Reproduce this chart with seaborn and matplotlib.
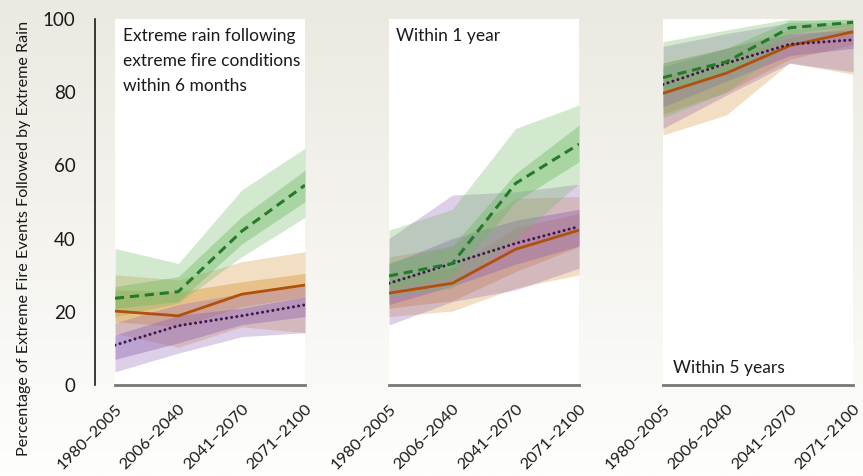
#!/usr/bin/env python3
"""Extreme rain following extreme fire conditions, three time windows."""

import matplotlib.pyplot as plt
import matplotlib.transforms as mtransforms
import numpy as np
import seaborn as sns

PERIODS = ["1980–2005", "2006–2040", "2041–2070", "2071–2100"]
PANEL_TEXT = [
    "Extreme rain following\nextreme fire conditions\nwithin 6 months",
    "Within 1 year",
    "Within 5 years",
]
YLABEL = "Percentage of Extreme Fire Events Followed by Extreme Rain"

# one row per panel (6 months, 1 year, 5 years)
GREEN_MID = [[23.7, 25.5, 42.0, 54.6], [29.8, 33.2, 55.1, 65.8], [84.0, 88.3, 97.6, 99.1]]
GREEN_IN_LO = [[20.9, 22.8, 38.5, 50.1], [26.5, 29.5, 50.1, 61.0], [80.0, 85.0, 96.0, 98.0]]
GREEN_IN_HI = [[26.9, 29.6, 46.0, 58.7], [33.5, 38.0, 57.8, 71.0], [88.0, 92.0, 99.5, 100.0]]
GREEN_OUT_LO = [[18.7, 22.4, 35.0, 45.8], [24.0, 26.5, 40.0, 55.1], [73.0, 80.0, 93.0, 96.0]]
GREEN_OUT_HI = [[37.3, 33.2, 53.3, 64.7], [42.3, 48.0, 70.1, 76.5], [93.8, 97.0, 100.0, 100.0]]

ORANGE_MID = [[20.2, 18.9, 24.8, 27.3], [25.1, 27.8, 37.1, 42.3], [79.7, 85.2, 92.7, 96.5]]
ORANGE_IN_LO = [[17.3, 15.9, 21.4, 24.1], [21.0, 23.0, 31.0, 37.8], [74.0, 80.0, 89.0, 93.0]]
ORANGE_IN_HI = [[26.0, 25.5, 28.2, 30.5], [29.0, 32.0, 43.0, 46.9], [84.0, 89.0, 95.0, 98.0]]
ORANGE_OUT_LO = [[14.1, 10.3, 15.9, 14.3], [18.7, 20.2, 26.5, 30.1], [68.3, 73.8, 88.0, 84.9]]
ORANGE_OUT_HI = [[30.1, 28.7, 33.7, 36.4], [35.0, 38.0, 51.0, 51.5], [88.0, 92.0, 97.0, 99.0]]

PURPLE_MID = [[10.9, 16.2, 18.9, 21.9], [27.8, 33.2, 38.7, 43.3], [82.1, 87.9, 93.1, 94.3]]
PURPLE_IN_LO = [[7.0, 11.5, 16.5, 18.7], [22.0, 27.0, 33.0, 38.0], [76.0, 83.0, 90.0, 92.0]]
PURPLE_IN_HI = [[13.7, 19.0, 21.0, 24.1], [33.0, 40.0, 45.0, 48.0], [87.0, 92.0, 96.0, 97.0]]
PURPLE_OUT_LO = [[3.6, 8.7, 13.2, 14.3], [16.4, 22.8, 26.0, 31.9], [70.1, 79.2, 87.9, 85.6]]
PURPLE_OUT_HI = [[17.0, 22.0, 25.0, 27.0], [40.0, 51.9, 52.8, 54.9], [92.5, 96.0, 99.0, 99.0]]

SERIES = [
    # (mid, in_lo, in_hi, out_lo, out_hi, band colour, line colour, linestyle, capstyle)
    (ORANGE_MID, ORANGE_IN_LO, ORANGE_IN_HI, ORANGE_OUT_LO, ORANGE_OUT_HI,
     "#d79437", "#b0500c", "-", "butt"),
    (PURPLE_MID, PURPLE_IN_LO, PURPLE_IN_HI, PURPLE_OUT_LO, PURPLE_OUT_HI,
     "#8e62b2", "#3f1650", (0, (0.01, 1.7)), "round"),
    (GREEN_MID, GREEN_IN_LO, GREEN_IN_HI, GREEN_OUT_LO, GREEN_OUT_HI,
     "#6cb962", "#237a2a", (0, (3.0, 1.9)), "butt"),
]

sns.set_style("white")
plt.rcParams["font.family"] = ["Lato", "DejaVu Sans"]
plt.rcParams["text.color"] = "#1a1a1a"

W, H = 863, 476
fig = plt.figure(figsize=(W / 100, H / 100), dpi=100)

# beige-to-white background gradient
bg = fig.add_axes([0, 0, 1, 1], zorder=-10)
grad = np.linspace(0, 1, 256)[:, None]
top = np.array([235, 233, 225]) / 255
bottom = np.array([254, 254, 252]) / 255
img = top[None, None, :] * (1 - grad[..., None]) + bottom[None, None, :] * grad[..., None]
bg.imshow(img, aspect="auto", extent=[0, 1, 0, 1])
bg.set_axis_off()

lefts = [115, 389, 663]
panel_w = 190
y_top, y_bot = 19, 385
x = np.arange(len(PERIODS))

for p, left in enumerate(lefts):
    ax = fig.add_axes([left / W, 1 - y_bot / H, panel_w / W, (y_bot - y_top) / H])
    ax.set_facecolor("white")

    for mid, ilo, ihi, olo, ohi, band, line, ls, cap in SERIES:
        ax.fill_between(x, olo[p], ohi[p], color=band, alpha=0.3, lw=0)
        ax.fill_between(x, ilo[p], ihi[p], color=band, alpha=0.4, lw=0)
    for mid, ilo, ihi, olo, ohi, band, line, ls, cap in SERIES:
        sns.lineplot(x=x, y=mid[p], ax=ax, color=line, linestyle=ls,
                     linewidth=2.2 if ls != "-" else 2.0, dash_capstyle=cap)

    ax.set_xlim(0, 3)
    ax.set_ylim(0, 100)
    ax.set_xticks(x)
    ax.set_xticklabels([])
    # rotated period labels, hung just below-right of each tick
    offset = mtransforms.ScaledTranslation(5 / 100, -22 / 100, fig.dpi_scale_trans)
    for xi, lab in zip(x, PERIODS):
        ax.text(xi, 0, lab, transform=ax.get_xaxis_transform() + offset,
                rotation=45, ha="right", va="center", rotation_mode="anchor",
                fontsize=11.8, color="#1a1a1a", clip_on=False)
    ax.tick_params(axis="x", direction="out", length=10, width=1.2, color="#333333")

    for side in ["top", "right"]:
        ax.spines[side].set_visible(False)
    ax.spines["bottom"].set_color("#777777")
    ax.spines["bottom"].set_linewidth(2)

    if p == 0:
        ax.spines["left"].set_position(("outward", 14.4))
        ax.spines["left"].set_color("#1a1a1a")
        ax.spines["left"].set_linewidth(1.2)
        ax.set_yticks([0, 20, 40, 60, 80, 100])
        ax.tick_params(axis="y", direction="out", length=8, width=1.2,
                       color="#1a1a1a", labelsize=13.5, pad=6, labelcolor="#1a1a1a")
        ax.set_ylabel(YLABEL, fontsize=11.6, color="#1a1a1a")
        ax.yaxis.set_label_coords(-0.44, 0.40)
    else:
        ax.spines["left"].set_visible(False)
        ax.set_yticks([])
    ax.set_xlabel("")
    ax.grid(False)

    if p == 2:
        ax.text(0.055, 0.033, PANEL_TEXT[p], transform=ax.transAxes,
                fontsize=12.5, va="baseline", ha="left")
    else:
        ax.text(0.04 if p == 0 else 0.035, 0.975, PANEL_TEXT[p], transform=ax.transAxes,
                fontsize=12.5, va="top", ha="left", linespacing=1.7)

fig.savefig("out.png", dpi=100)
